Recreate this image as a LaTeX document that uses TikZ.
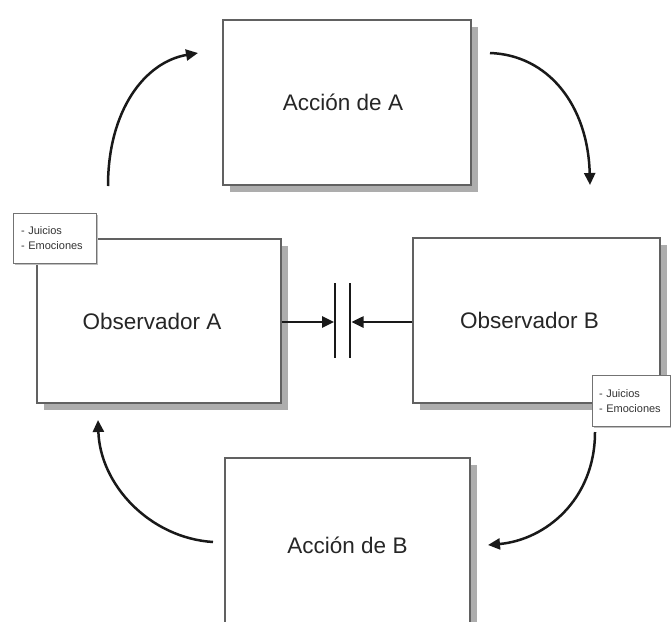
\documentclass[tikz,border=0pt]{standalone}
\usepackage{fontspec}
\setmainfont{Liberation Sans}
\usetikzlibrary{arrows.meta,shadows}
\begin{document}
\begin{tikzpicture}[x=1pt,y=-1pt,
  box/.style={draw=black!62, line width=1.4pt, fill=white, inner sep=0pt,
    text=black!85, font=\fontsize{22.5}{26}\selectfont,
    drop shadow={shadow xshift=7pt, shadow yshift=-7pt, fill=black!32, opacity=1}},
  notebox/.style={draw=black!55, line width=1pt, fill=white, inner xsep=8pt, inner ysep=0pt,
    text=black!80, align=left, font=\fontsize{11}{15}\selectfont,
    drop shadow={shadow xshift=1.5pt, shadow yshift=-1.5pt, fill=black!25, opacity=1}},
  arr/.style={line width=2.5pt, black!90, -{Triangle[length=12pt,width=11pt]}},
  plate/.style={line width=2.8pt, black!90}
]
\clip (0,0) rectangle (671,621);
\fill[white] (0,0) rectangle (671,621);

% main boxes
\node[box, minimum width=248pt, minimum height=165pt] (acA) at (347,102.5) {\hspace*{-8pt}Acción de A};
\node[box, minimum width=244pt, minimum height=164pt] (obsA) at (159,321) {\hspace*{-14pt}Observador A};
\node[box, minimum width=247pt, minimum height=165pt] (obsB) at (536.5,320.5) {\hspace*{-14pt}Observador B};
\node[box, minimum width=245pt, minimum height=174pt] (acB) at (347.5,545) {Acción de B};

% notes
\node[notebox, minimum width=83pt, minimum height=50pt, text width=67pt] (noteA) at (54.5,238) {- Juicios\\- Emociones};
\node[notebox, minimum width=78pt, minimum height=51pt, text width=64pt, inner xsep=7pt] (noteB) at (631,401) {- Juicios\\- Emociones};

% plates
\coordinate (p1t) at (335,283);
\coordinate (p1b) at (335,358);
\coordinate (p2t) at (350,283);
\coordinate (p2b) at (350,358);
\draw[plate] (p1t) -- (p1b);
\draw[plate] (p2t) -- (p2b);
\coordinate (pl1) at (334,322);
\coordinate (pl2) at (351.5,322);
\draw[arr] (obsA.east |- pl1) -- (pl1);
\draw[arr] (obsB.west |- pl2) -- (pl2);

% curved arrows
\coordinate (a1s) at (108,186);
\coordinate (a1e) at (198,53);
\coordinate (a2s) at (490,53);
\coordinate (a2e) at (590,185);
\coordinate (a3s) at (595,432);
\coordinate (a3e) at (488,545);
\coordinate (a4s) at (213,542);
\coordinate (a4e) at (98,420);
\draw[arr] (a1s) .. controls (108,110) and (145,62) .. (a1e);
\draw[arr] (a2s) .. controls (548,55) and (588,105) .. (a2e);
\draw[arr] (a3s) .. controls (595,500) and (545,540) .. (a3e);
\draw[arr] (a4s) .. controls (150,538) and (100,485) .. (a4e);
\end{tikzpicture}
\end{document}
